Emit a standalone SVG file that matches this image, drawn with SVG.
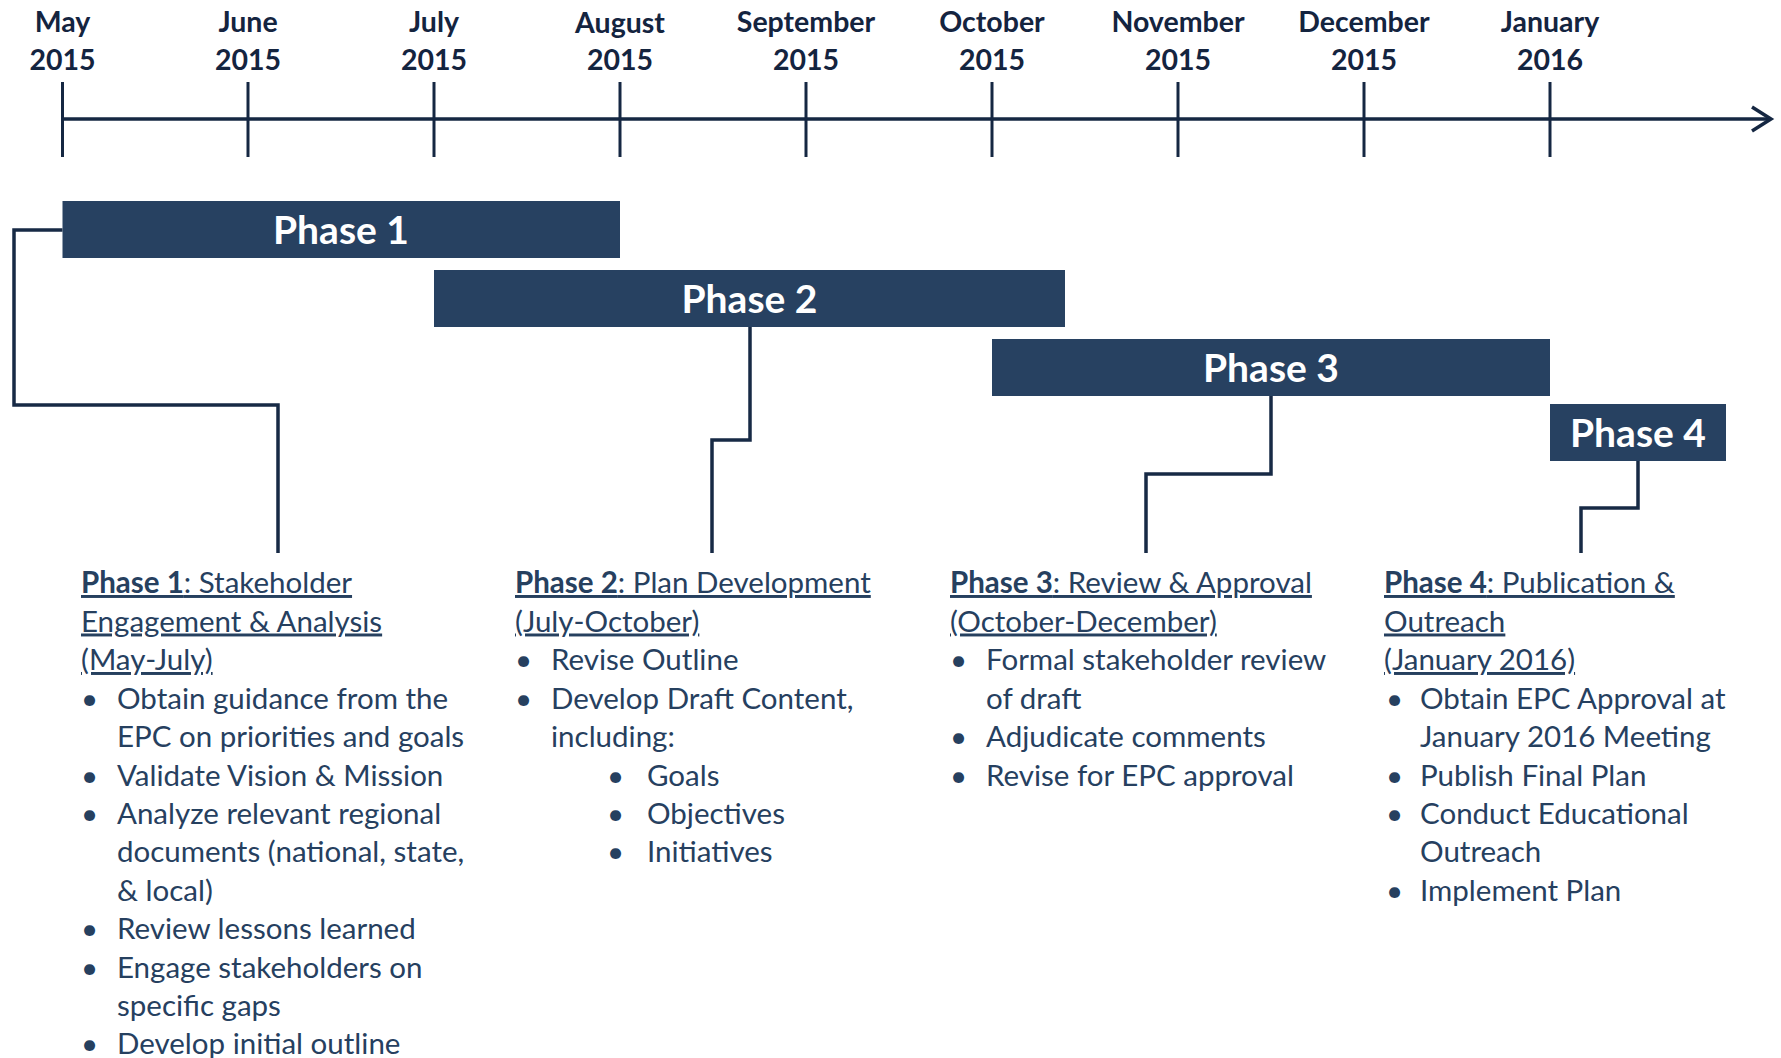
<svg xmlns="http://www.w3.org/2000/svg" width="1781" height="1058" viewBox="0 0 1781 1058">
<style>
.axis{stroke:#152742;stroke-width:3.5;fill:none}
.tick{stroke:#152742;stroke-width:3;fill:none}
.conn{stroke:#172a45;stroke-width:3.5;fill:none;stroke-linejoin:miter}
.bar{fill:#274161}
.barlabel{font-family:Lato,"Open Sans",sans-serif;font-weight:bold;font-size:39px;fill:#ffffff;text-anchor:middle}
.month{font-family:Lato,"Open Sans",sans-serif;font-weight:bold;font-size:28.5px;fill:#14243f;text-anchor:middle}
.body{font-family:Lato,"Open Sans",sans-serif;font-size:29.5px;fill:#26405f}
.head{text-decoration:underline}
.b{font-weight:bold}
</style>
<rect width="1781" height="1058" fill="#ffffff"/>
<g id="timeline">
  <line class="axis" x1="62.5" y1="119" x2="1770" y2="119"/>
  <polyline class="axis" points="1752,107 1771,119 1752,131"/>
  <g class="ticks">
    <line class="tick" x1="62.5" y1="82" x2="62.5" y2="157"/>
    <line class="tick" x1="248" y1="82" x2="248" y2="157"/>
    <line class="tick" x1="434" y1="82" x2="434" y2="157"/>
    <line class="tick" x1="620" y1="82" x2="620" y2="157"/>
    <line class="tick" x1="806" y1="82" x2="806" y2="157"/>
    <line class="tick" x1="992" y1="82" x2="992" y2="157"/>
    <line class="tick" x1="1178" y1="82" x2="1178" y2="157"/>
    <line class="tick" x1="1364" y1="82" x2="1364" y2="157"/>
    <line class="tick" x1="1550" y1="82" x2="1550" y2="157"/>
  </g>
  <g class="labels">
    <text class="month" x="62.5" y="32">May</text><text class="month" x="62.5" y="70">2015</text>
    <text class="month" x="248" y="32">June</text><text class="month" x="248" y="70">2015</text>
    <text class="month" x="434" y="32">July</text><text class="month" x="434" y="70">2015</text>
    <text class="month" x="620" y="33">August</text><text class="month" x="620" y="70">2015</text>
    <text class="month" x="806" y="32">September</text><text class="month" x="806" y="70">2015</text>
    <text class="month" x="992" y="32">October</text><text class="month" x="992" y="70">2015</text>
    <text class="month" x="1178" y="32">November</text><text class="month" x="1178" y="70">2015</text>
    <text class="month" x="1364" y="32">December</text><text class="month" x="1364" y="70">2015</text>
    <text class="month" x="1550" y="32">January</text><text class="month" x="1550" y="70">2016</text>
  </g>
</g>
<g id="connectors">
  <polyline class="conn" points="62.5,230 14,230 14,405 278,405 278,553"/>
  <polyline class="conn" points="750,327 750,440 712,440 712,553"/>
  <polyline class="conn" points="1271,395 1271,474 1146,474 1146,553"/>
  <polyline class="conn" points="1638,461 1638,508 1581,508 1581,553"/>
</g>
<g id="phase1">
  <rect class="bar" x="62.5" y="201" width="557.5" height="57"/>
  <text class="barlabel" x="341" y="244">Phase 1</text>
</g>
<g id="phase2">
  <rect class="bar" x="434" y="270" width="631" height="57"/>
  <text class="barlabel" x="749.5" y="313">Phase 2</text>
</g>
<g id="phase3">
  <rect class="bar" x="992" y="339" width="558" height="57"/>
  <text class="barlabel" x="1271" y="382">Phase 3</text>
</g>
<g id="phase4">
  <rect class="bar" x="1550" y="404" width="176" height="57"/>
  <text class="barlabel" x="1638" y="447">Phase 4</text>
</g>
<g id="phase1-details" class="body">
  <text class="head" x="81" y="593"><tspan class="b">Phase 1</tspan>: Stakeholder</text>
  <text class="head" x="81" y="631.5">Engagement &amp; Analysis</text>
  <text class="head" x="81" y="670">(May-July)</text>
  <text x="81" y="708.5">•</text><text x="117" y="708.5">Obtain guidance from the</text>
  <text x="117" y="747">EPC on priorities and goals</text>
  <text x="81" y="785.5">•</text><text x="117" y="785.5">Validate Vision &amp; Mission</text>
  <text x="81" y="824">•</text><text x="117" y="824">Analyze relevant regional</text>
  <text x="117" y="862">documents (national, state,</text>
  <text x="117" y="900.5">&amp; local)</text>
  <text x="81" y="939">•</text><text x="117" y="939">Review lessons learned</text>
  <text x="81" y="977.5">•</text><text x="117" y="977.5">Engage stakeholders on</text>
  <text x="117" y="1016">specific gaps</text>
  <text x="81" y="1054">•</text><text x="117" y="1054">Develop initial outline</text>
</g>
<g id="phase2-details" class="body">
  <text class="head" x="515" y="593"><tspan class="b">Phase 2</tspan>: Plan Development</text>
  <text class="head" x="515" y="631.5">(July-October)</text>
  <text x="515" y="670">•</text><text x="551" y="670">Revise Outline</text>
  <text x="515" y="708.5">•</text><text x="551" y="708.5">Develop Draft Content,</text>
  <text x="551" y="747">including:</text>
  <text x="607" y="785.5">•</text><text x="647" y="785.5">Goals</text>
  <text x="607" y="824">•</text><text x="647" y="824">Objectives</text>
  <text x="607" y="862">•</text><text x="647" y="862">Initiatives</text>
</g>
<g id="phase3-details" class="body">
  <text class="head" x="950" y="593"><tspan class="b">Phase 3</tspan>: Review &amp; Approval</text>
  <text class="head" x="950" y="631.5">(October-December)</text>
  <text x="950" y="670">•</text><text x="986" y="670">Formal stakeholder review</text>
  <text x="986" y="708.5">of draft</text>
  <text x="950" y="747">•</text><text x="986" y="747">Adjudicate comments</text>
  <text x="950" y="785.5">•</text><text x="986" y="785.5">Revise for EPC approval</text>
</g>
<g id="phase4-details" class="body">
  <text class="head" x="1384" y="593"><tspan class="b">Phase 4</tspan>: Publication &amp;</text>
  <text class="head" x="1384" y="631.5">Outreach</text>
  <text class="head" x="1384" y="670">(January 2016)</text>
  <text x="1386" y="708.5">•</text><text x="1420" y="708.5">Obtain EPC Approval at</text>
  <text x="1420" y="747">January 2016 Meeting</text>
  <text x="1386" y="785.5">•</text><text x="1420" y="785.5">Publish Final Plan</text>
  <text x="1386" y="824">•</text><text x="1420" y="824">Conduct Educational</text>
  <text x="1420" y="862">Outreach</text>
  <text x="1386" y="900.5">•</text><text x="1420" y="900.5">Implement Plan</text>
</g>
</svg>
